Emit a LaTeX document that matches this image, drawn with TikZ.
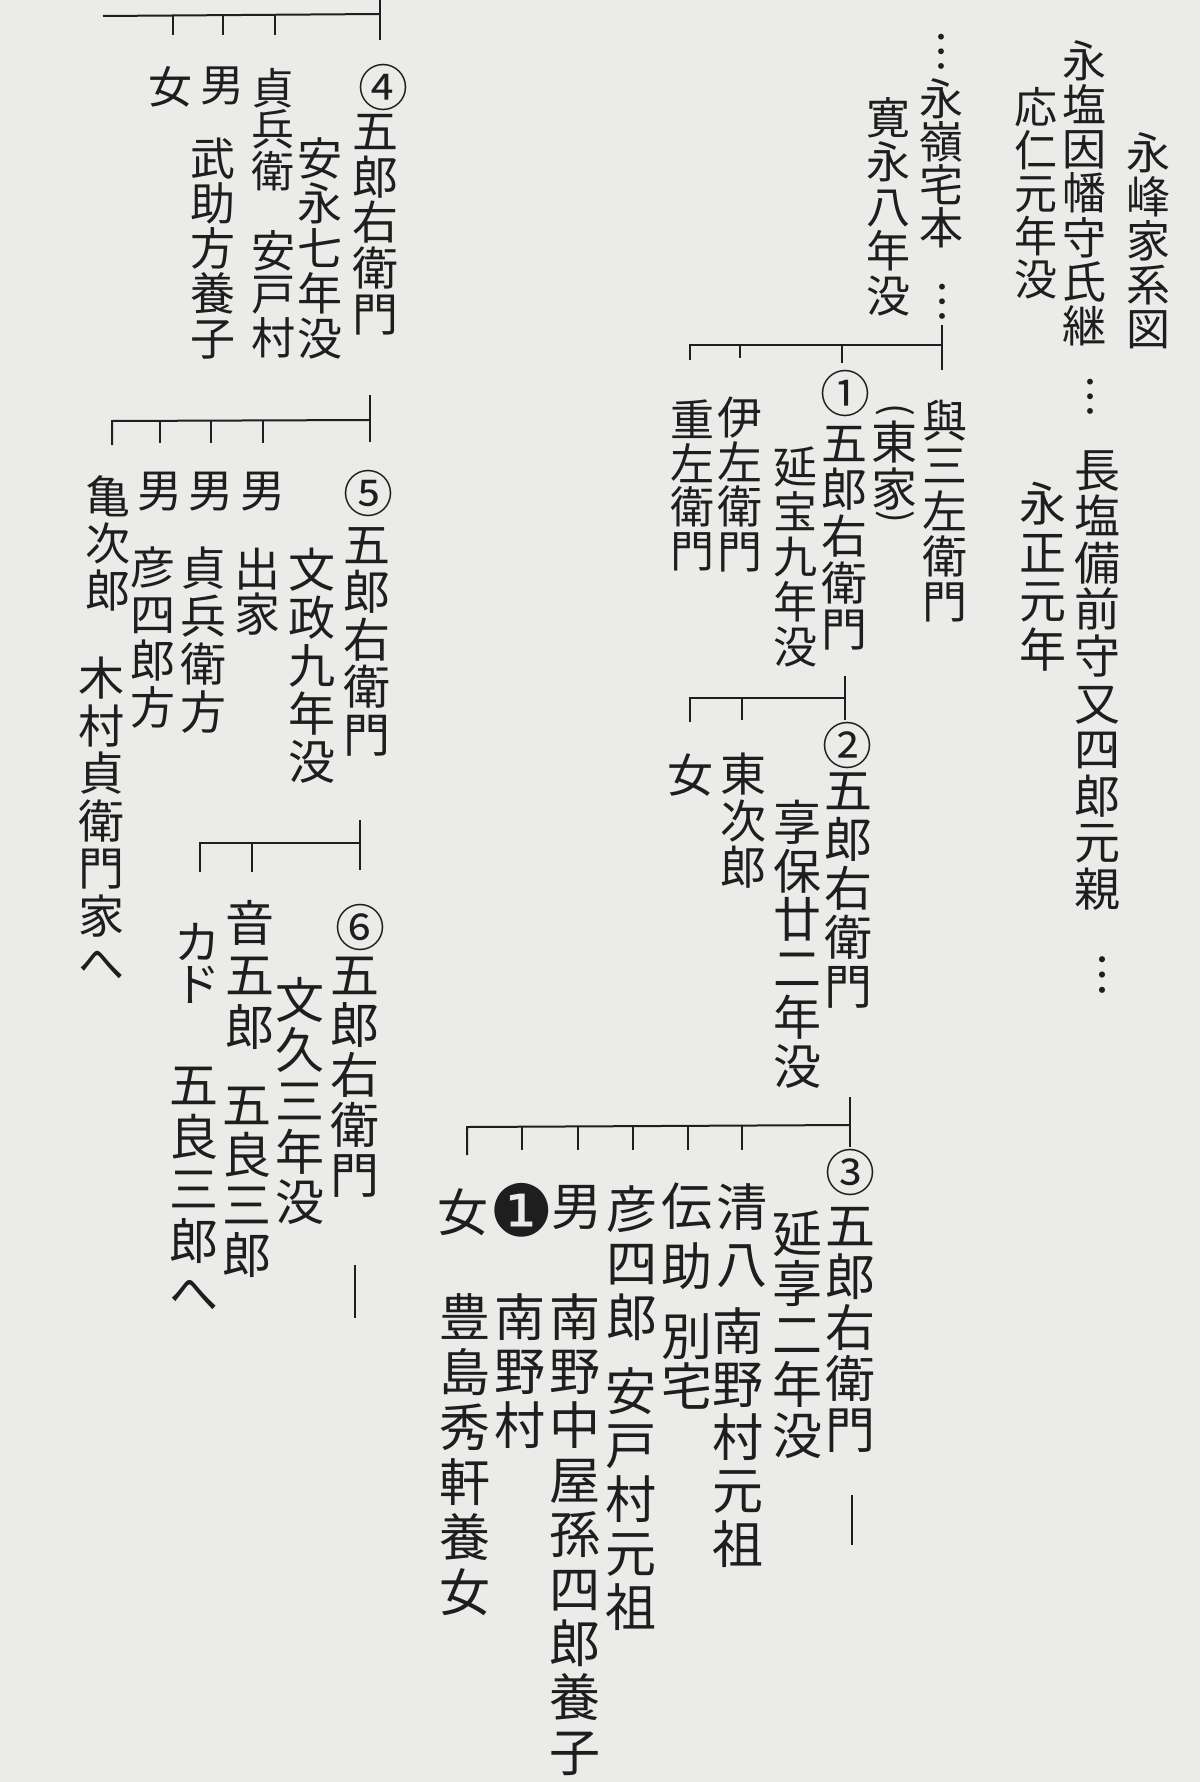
\documentclass[tikz,border=0pt]{standalone}
\usepackage{fontspec}
\newfontfamily\jp{Noto Sans CJK JP}
\newfontfamily\djv{DejaVu Sans}
\definecolor{ink}{RGB}{30,30,30}
\definecolor{paper}{RGB}{235,235,233}
\def\VTloop#1{\ifx#1\relax\else\hbox to 1em{\hss#1\hss}\expandafter\VTloop\fi}
\newcommand\VT[2]{\vbox{\baselineskip=#1pt\lineskiplimit=-1000pt\relax\VTloop#2\relax}}
\newcommand\fsz[1]{\jp\fontsize{#1}{#1}\selectfont}
\tikzset{
 vt/.style={anchor=north, inner sep=0pt, text=ink},
 one/.style={anchor=center, inner sep=0pt, text=ink},
 circ/.style={one, font={\fsz{50}}},
 ln/.style={draw=ink, line width=2pt},
}
\begin{document}
\begin{tikzpicture}[x=1pt,y=-1pt]
\fill[paper] (0,0) rectangle (1200,1782);
\useasboundingbox (0,0) rectangle (1200,1782);

% ---------- right top ----------
\node[vt,font={\fsz{44}}] (title) at (1148,132) {\VT{44.2}{永峰家系図}};
\node[vt,font={\fsz{44}}] (nagashio1) at (1084,40) {\VT{44.3}{永塩因幡守氏継}};
\node[vt,font={\fsz{43}}] (ounin) at (1036,87) {\VT{43}{応仁元年没}};
\node[one,font={\fsz{44}}] (dotsA) at (1090,397) {︙};
\node[vt,font={\fsz{46}}] (nagashio2) at (1097,450) {\VT{46.6}{長塩備前守又四郎元親}};
\node[one,font={\fsz{46}}] (dotsB) at (1102,975) {︙};
\node[vt,font={\fsz{47}}] (eisho) at (1043,482) {\VT{48.5}{永正元年}};
\node[one,font={\fsz{44}}] (dotsC) at (941,52) {︙};
\node[vt,font={\fsz{44}}] (eirei) at (941,78) {\VT{43}{永嶺宅本}};
\node[one,font={\fsz{44}}] (dotsD) at (942,302) {︙};
\node[vt,font={\fsz{44}}] (kanei) at (888,97) {\VT{44.6}{寛永八年没}};

% family A
\coordinate (A-top) at (942,325); \coordinate (A-bot) at (942,370);
\coordinate (A-l) at (690,345); \coordinate (A-r) at (942,345);
\coordinate (A-1) at (740,345); \coordinate (A-2) at (842,345);
\coordinate (A-ld) at (690,360); \coordinate (A-1d) at (740,358); \coordinate (A-2d) at (842,363);
\draw[ln] (A-top) -- (A-bot);
\draw[ln] (A-ld) -- (A-l) -- (A-r);
\draw[ln] (A-1) -- (A-1d);
\draw[ln] (A-2) -- (A-2d);

\node[vt,font={\fsz{45}}] (yosan) at (945,400) {\VT{45.2}{與三左衛門}};
\node[one,rotate=-90,font={\fsz{38}}] (pl) at (895,410) {(};
\node[vt,font={\fsz{46}}] (higashi) at (894,421) {\VT{47}{東家}};
\node[one,rotate=-90,font={\fsz{38}}] (pr) at (895,517) {)};
\node[circ] (c1) at (845,393) {①};
\node[vt,font={\fsz{46}}] (n1) at (844,426) {\VT{46.6}{五郎右衛門}};
\node[vt,font={\fsz{44}}] (enpo) at (795,447) {\VT{45}{延宝九年没}};
\node[vt,font={\fsz{45}}] (iza) at (740,397) {\VT{44.5}{伊左衛門}};
\node[vt,font={\fsz{44}}] (jyuza) at (692,400) {\VT{43.5}{重左衛門}};

% family B
\coordinate (B-top) at (845,676); \coordinate (B-bot) at (845,720);
\coordinate (B-l) at (690,698); \coordinate (B-r) at (845,698);
\coordinate (B-1) at (742,698);
\coordinate (B-ld) at (690,722); \coordinate (B-1d) at (742,720);
\draw[ln] (B-top) -- (B-bot);
\draw[ln] (B-ld) -- (B-l) -- (B-r);
\draw[ln] (B-1) -- (B-1d);

\node[circ] (c2) at (847,745) {②};
\node[vt,font={\fsz{48}}] (n2) at (848,773) {\VT{49}{五郎右衛門}};
\node[vt,font={\fsz{48}}] (kyoho) at (797,800) {\VT{48.7}{享保廿二年没}};
\node[vt,font={\fsz{46}}] (tojiro) at (743,753) {\VT{46.3}{東次郎}};
\node[one,font={\fsz{46}}] (onnaB) at (690,775) {女};

% family C
\coordinate (C-top) at (850,1097); \coordinate (C-bot) at (850,1147);
\coordinate (C-l) at (467,1127); \coordinate (C-r) at (850,1125);
\coordinate (C-ld) at (467,1155);
\foreach \i/\x in {1/522,2/578,3/633,4/688,5/742}{
  \coordinate (C-\i) at (\x,1126);
  \coordinate (C-\i d) at (\x,1150);
  \draw[ln] (C-\i) -- (C-\i d);
}
\draw[ln] (C-top) -- (C-bot);
\draw[ln] (C-ld) -- (C-l) -- (C-r);

\node[circ] (c3) at (850,1172) {③};
\node[vt,font={\fsz{50}}] (n3) at (850,1207) {\VT{51}{五郎右衛門}};
\coordinate (n3-c1) at (852,1495); \coordinate (n3-c2) at (852,1545);
\draw[ln] (n3-c1) -- (n3-c2);
\node[vt,font={\fsz{50}}] (enkyo) at (797,1210) {\VT{50.6}{延享二年没}};
\node[vt,font={\fsz{51}}] (seihachi) at (742,1183) {\VT{57}{清八}};
\node[vt,font={\fsz{51}}] (seihachiB) at (738,1307) {\VT{53.3}{南野村元祖}};
\node[vt,font={\fsz{51}}] (densuke) at (687,1183) {\VT{60}{伝助}};
\node[vt,font={\fsz{51}}] (densukeB) at (687,1313) {\VT{50}{別宅}};
\node[vt,font={\fsz{51}}] (hikoshiro) at (632,1185) {\VT{54}{彦四郎}};
\node[vt,font={\fsz{51}}] (hikoshiroB) at (631,1367) {\VT{54}{安戸村元祖}};
\node[one,font={\fsz{51}}] (otokoC) at (577,1207) {男};
\node[vt,font={\fsz{51}}] (otokoCB) at (575,1293) {\VT{54.4}{南野中屋孫四郎養子}};
\node[one,font={\djv\fontsize{72}{72}\selectfont}] (b1) at (522,1210) {❶};
\node[vt,font={\fsz{51}}] (b1B) at (520,1293) {\VT{54}{南野村}};
\node[one,font={\fsz{51}}] (onnaC) at (463,1212) {女};
\node[vt,font={\fsz{51}}] (onnaCB) at (465,1293) {\VT{55}{豊島秀軒養女}};

% ---------- left side ----------
% family D
\coordinate (D-top) at (380,0); \coordinate (D-bot) at (380,40);
\coordinate (D-l) at (103,16); \coordinate (D-r) at (380,14);
\foreach \i/\x in {1/173,2/223,3/275}{
  \coordinate (D-\i) at (\x,15);
  \coordinate (D-\i d) at (\x,35);
  \draw[ln] (D-\i) -- (D-\i d);
}
\draw[ln] (D-top) -- (D-bot);
\draw[ln] (D-l) -- (D-r);

\node[circ] (c4) at (383,88) {④};
\node[vt,font={\fsz{46}}] (n4) at (375,114) {\VT{45.8}{五郎右衛門}};
\node[vt,font={\fsz{45}}] (anei) at (320,137) {\VT{45.2}{安永七年没}};
\node[vt,font={\fsz{43}}] (sadabe) at (273,68) {\VT{41.5}{貞兵衛}};
\node[vt,font={\fsz{44}}] (sadabeB) at (273,230) {\VT{43.5}{安戸村}};
\node[one,font={\fsz{44}}] (otokoD) at (222,86) {男};
\node[vt,font={\fsz{45}}] (takesuke) at (213,138) {\VT{45}{武助方養子}};
\node[one,font={\fsz{44}}] (onnaD) at (170,87) {女};

% family E
\coordinate (E-top) at (370,395); \coordinate (E-bot) at (370,442);
\coordinate (E-l) at (112,421); \coordinate (E-r) at (370,420);
\coordinate (E-ld) at (112,445);
\foreach \i/\x in {1/160,2/211,3/263}{
  \coordinate (E-\i) at (\x,420);
  \coordinate (E-\i d) at (\x,443);
  \draw[ln] (E-\i) -- (E-\i d);
}
\draw[ln] (E-top) -- (E-bot);
\draw[ln] (E-ld) -- (E-l) -- (E-r);

\node[circ] (c5) at (368,493) {⑤};
\node[vt,font={\fsz{47}}] (n5) at (367,527) {\VT{47.5}{五郎右衛門}};
\node[vt,font={\fsz{47}}] (bunsei) at (312,548) {\VT{48}{文政九年没}};
\node[one,font={\fsz{45}}] (otokoE1) at (263,492) {男};
\node[vt,font={\fsz{46}}] (shukke) at (257,548) {\VT{45}{出家}};
\node[one,font={\fsz{45}}] (otokoE2) at (211,492) {男};
\node[vt,font={\fsz{46}}] (sadabekata) at (203,547) {\VT{48}{貞兵衛方}};
\node[one,font={\fsz{45}}] (otokoE3) at (160,492) {男};
\node[vt,font={\fsz{45}}] (hikokata) at (153,547) {\VT{46.5}{彦四郎方}};
\node[vt,font={\fsz{45}}] (kamejiro) at (108,475) {\VT{47}{亀次郎}};
\node[vt,font={\fsz{46}}] (kimura) at (101,657) {\VT{47.5}{木村貞衛門家へ}};

% family F
\coordinate (F-top) at (360,820); \coordinate (F-bot) at (360,870);
\coordinate (F-l) at (200,843); \coordinate (F-r) at (360,843);
\coordinate (F-ld) at (200,872);
\coordinate (F-1) at (252,843); \coordinate (F-1d) at (252,872);
\draw[ln] (F-top) -- (F-bot);
\draw[ln] (F-ld) -- (F-l) -- (F-r);
\draw[ln] (F-1) -- (F-1d);

\node[circ] (c6) at (360,927) {⑥};
\node[vt,font={\fsz{49}}] (n6) at (355,957) {\VT{50}{五郎右衛門}};
\coordinate (n6-c1) at (355,1265); \coordinate (n6-c2) at (355,1318);
\draw[ln] (n6-c1) -- (n6-c2);
\node[vt,font={\fsz{49}}] (bunkyu) at (300,977) {\VT{50.6}{文久三年没}};
\node[vt,font={\fsz{49}}] (otogoro) at (250,900) {\VT{52}{音五郎}};
\node[vt,font={\fsz{49}}] (otogoroB) at (247,1087) {\VT{50}{五良三郎}};
\node[vt,font={\fsz{46}}] (kado) at (197,923) {\VT{42}{カド}};
\node[vt,font={\fsz{49}}] (kadoB) at (194,1067) {\VT{52}{五良三郎へ}};
\end{tikzpicture}
\end{document}
